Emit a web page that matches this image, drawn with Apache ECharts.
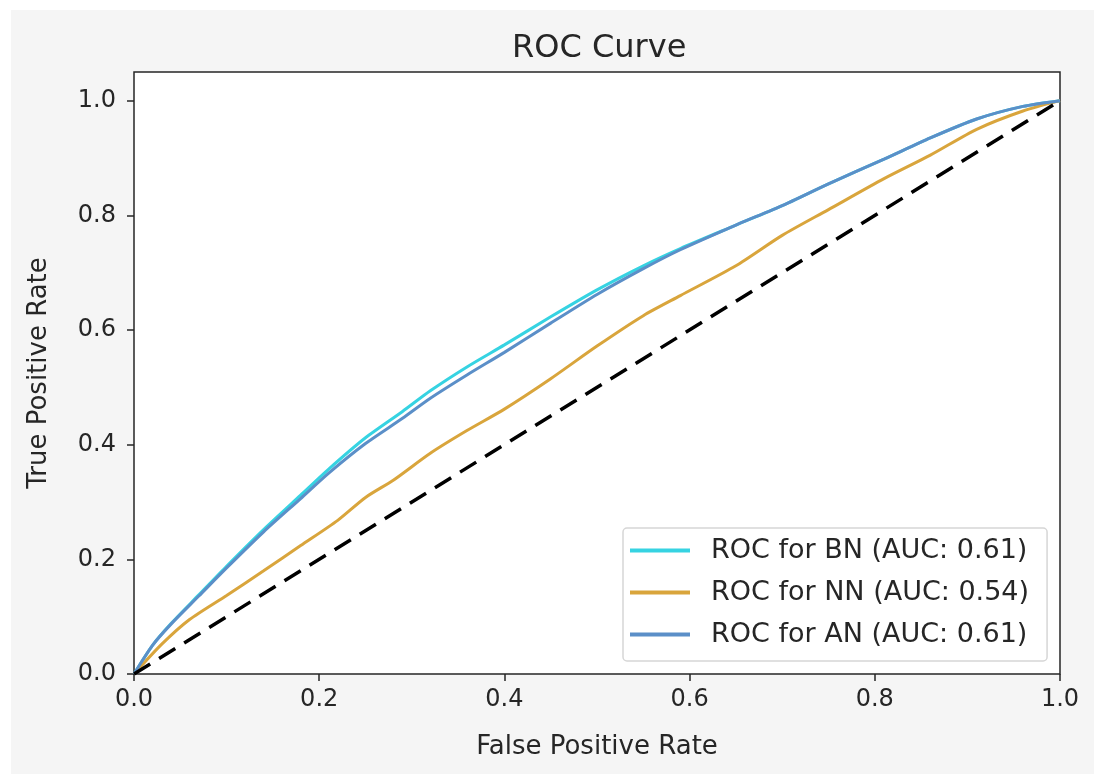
<!DOCTYPE html>
<html>
<head>
<meta charset="utf-8">
<script src="https://cdn.jsdelivr.net/npm/echarts@6/dist/echarts.min.js"></script>
<style>
  html, body { margin: 0; padding: 0; background: #ffffff; }
  #chart { position: absolute; left: 11px; top: 10px; width: 1083px; height: 764px; background: #f5f5f5; }
</style>
</head>
<body>
<div id="chart"></div>
<script>
// 横軸（偽陽性率）と縦軸（真陽性率）の値
const bnFpr = [0, 0.02, 0.04, 0.07, 0.10, 0.14, 0.18, 0.21, 0.25, 0.29, 0.32, 0.36, 0.40, 0.45, 0.50, 0.55, 0.59, 0.65, 0.70, 0.75, 0.81, 0.86, 0.91, 0.96, 1.0];
const bnTpr = [0, 0.05, 0.088, 0.138, 0.188, 0.252, 0.312, 0.357, 0.412, 0.458, 0.494, 0.536, 0.574, 0.623, 0.670, 0.712, 0.742, 0.783, 0.817, 0.855, 0.898, 0.935, 0.968, 0.99, 1.0];

const nnFpr = [0, 0.03, 0.06, 0.10, 0.14, 0.18, 0.22, 0.25, 0.28, 0.32, 0.36, 0.40, 0.45, 0.50, 0.55, 0.59, 0.65, 0.70, 0.75, 0.81, 0.86, 0.91, 0.96, 1.0];
const nnTpr = [0, 0.052, 0.095, 0.137, 0.18, 0.224, 0.268, 0.308, 0.338, 0.385, 0.425, 0.462, 0.515, 0.572, 0.625, 0.66, 0.712, 0.765, 0.81, 0.864, 0.905, 0.95, 0.982, 1.0];

const anFpr = [0, 0.02, 0.04, 0.07, 0.10, 0.14, 0.18, 0.21, 0.25, 0.29, 0.32, 0.36, 0.40, 0.45, 0.50, 0.55, 0.59, 0.65, 0.70, 0.75, 0.81, 0.86, 0.91, 0.96, 1.0];
const anTpr = [0, 0.05, 0.087, 0.136, 0.185, 0.248, 0.306, 0.35, 0.402, 0.446, 0.481, 0.522, 0.561, 0.612, 0.662, 0.707, 0.740, 0.783, 0.817, 0.855, 0.898, 0.935, 0.968, 0.99, 1.0];

// 対角線（ランダム分類）
const chanceFpr = [0, 1];
const chanceTpr = [0, 1];

// 目盛りの値
const tickValues = [0, 0.2, 0.4, 0.6, 0.8, 1.0];

const seriesNames = ['ROC for BN (AUC: 0.61)', 'ROC for NN (AUC: 0.54)', 'ROC for AN (AUC: 0.61)'];
const seriesColors = ['#36d3e2', '#d9a53c', '#5b8fc8'];

// x と y の配列を組にする
const toPairs = (xs, ys) => xs.map((x, i) => [x, ys[i]]);

const chart = echarts.init(document.querySelector('#chart'));

const font = 'DejaVu Sans';
const textColor = '#262626';

const rocSeries = [
  toPairs(bnFpr, bnTpr),
  toPairs(nnFpr, nnTpr),
  toPairs(anFpr, anTpr)
].map((data, i) => ({
  name: seriesNames[i],
  type: 'line',
  data: data,
  showSymbol: false,
  smooth: 0.25,
  color: seriesColors[i],
  lineStyle: { width: 3, color: seriesColors[i] },
  itemStyle: { color: seriesColors[i] },
  z: 3 + i
}));

const option = {
  animation: false,
  title: {
    text: 'ROC Curve',
    left: 496,
    top: 18,
    textStyle: { fontFamily: font, fontSize: 32, fontWeight: 'normal', color: textColor }
  },
  legend: {
    data: seriesNames,
    orient: 'vertical',
    left: 612,
    top: 518,
    icon: 'rect',
    itemWidth: 60,
    itemHeight: 4,
    itemGap: 15,
    padding: [9, 18, 13, 7],
    backgroundColor: '#ffffff',
    borderColor: '#d6d6d6',
    borderWidth: 1.5,
    borderRadius: 4,
    textStyle: { fontFamily: font, fontSize: 27, color: textColor, lineHeight: 27, padding: [0, 0, 0, 16] }
  },
  grid: {
    left: 123,
    right: 34,
    top: 62,
    bottom: 100,
    show: true,
    backgroundColor: '#ffffff',
    borderColor: '#262626',
    borderWidth: 1.5
  },
  xAxis: {
    type: 'value',
    min: 0,
    max: 1,
    interval: 0.2,
    name: 'False Positive Rate',
    nameLocation: 'middle',
    nameGap: 60,
    nameTextStyle: { fontFamily: font, fontSize: 26, color: textColor },
    axisLine: { show: false },
    axisTick: { show: true, length: 7, lineStyle: { color: '#262626', width: 1.5 }, customValues: tickValues },
    axisLabel: {
      fontFamily: font, fontSize: 24, color: textColor, margin: 14,
      customValues: tickValues,
      formatter: v => v.toFixed(1)
    },
    splitLine: { show: false }
  },
  yAxis: {
    type: 'value',
    min: 0,
    max: 1.05,
    interval: 0.2,
    name: 'True Positive Rate',
    nameLocation: 'middle',
    nameGap: 82,
    nameTextStyle: { fontFamily: font, fontSize: 26, color: textColor },
    axisLine: { show: false },
    axisTick: { show: true, length: 7, lineStyle: { color: '#262626', width: 1.5 }, customValues: tickValues },
    axisLabel: {
      fontFamily: font, fontSize: 24, color: textColor, margin: 18,
      customValues: tickValues,
      formatter: v => v.toFixed(1)
    },
    splitLine: { show: false }
  },
  series: [
    ...rocSeries,
    {
      name: 'chance',
      type: 'line',
      data: toPairs(chanceFpr, chanceTpr),
      showSymbol: false,
      color: '#000000',
      lineStyle: { width: 3.5, color: '#000000', type: [19, 10.5] },
      z: 10
    }
  ]
};

chart.setOption(option);
</script>
</body>
</html>
